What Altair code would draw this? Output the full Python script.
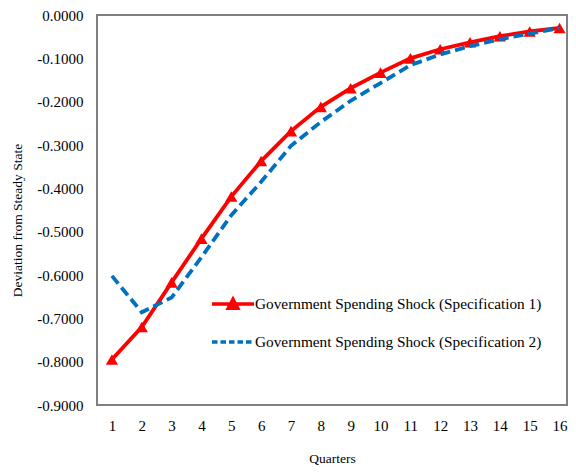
import altair as alt
import pandas as pd

quarters = list(range(1, 17))
spec1 = [-0.795, -0.720, -0.617, -0.516, -0.419, -0.337, -0.268, -0.212, -0.169,
         -0.133, -0.100, -0.079, -0.063, -0.049, -0.038, -0.030]
spec2 = [-0.602, -0.686, -0.652, -0.559, -0.462, -0.385, -0.302, -0.247, -0.198,
         -0.157, -0.116, -0.091, -0.072, -0.056, -0.043, -0.030]
names = ["Government Spending Shock (Specification 1)",
         "Government Spending Shock (Specification 2)"]
colors = ["#FF0000", "#0070C0"]
y_ticks = [0.0, -0.1, -0.2, -0.3, -0.4, -0.5, -0.6, -0.7, -0.8, -0.9]

df = pd.DataFrame({
    "Quarter": quarters * 2,
    "Value": spec1 + spec2,
    "Series": [names[0]] * 16 + [names[1]] * 16,
})

FONT = "Liberation Serif"

tri_path = "M-2,0H2M-0.45,0.4L0,-0.45L0.45,0.4Z"
line_path = "M-2,0H2"


def mk_legend():
    return alt.Legend(
        title=None, orient="none", legendX=123.5, legendY=276.5,
        labelFont=FONT, labelFontSize=15.3, labelColor="black", labelLimit=500,
        labelOffset=9.5, symbolSize=441, symbolStrokeWidth=3.5, rowPadding=14,
        padding=0, symbolOpacity=1,
    )


x = alt.X("Quarter:Q", scale=alt.Scale(domain=[0.5, 16.25], nice=False, zero=False),
          axis=alt.Axis(values=quarters, format="d", title="Quarters", grid=False,
                        ticks=False, domain=False, labelPadding=13, titlePadding=18,
                        labelFont=FONT, labelFontSize=15, labelColor="black",
                        titleFont=FONT, titleFontSize=13.5, titleFontWeight="normal",
                        titleColor="black"))
y = alt.Y("Value:Q", scale=alt.Scale(domain=[-0.9, 0], nice=False, zero=False),
          axis=alt.Axis(values=y_ticks,
                        labelExpr="replace(format(datum.value, '.4f'), '\u2212', '-')",
                        title="Deviation from Steady State",
                        grid=False, ticks=False, domain=False, labelPadding=14,
                        titlePadding=12, titleY=205, labelFont=FONT, labelFontSize=15,
                        labelColor="black", titleFont=FONT, titleFontSize=13.5,
                        titleFontWeight="normal", titleColor="black"))

base = alt.Chart(df).encode(x=x, y=y)

line1 = base.mark_line(strokeWidth=3.8, color=colors[0]).transform_filter(
    alt.datum.Series == names[0])
pts1 = base.mark_point(shape="triangle-up", filled=True, size=150, opacity=1,
                       color=colors[0]).transform_filter(alt.datum.Series == names[0])
line2 = base.mark_line(strokeWidth=3.8, strokeDash=[10, 5], color=colors[1]).transform_filter(
    alt.datum.Series == names[1])

legend_layer = alt.Chart(df).mark_point(filled=True, strokeWidth=3.5, opacity=1).encode(
    fill=alt.Fill("Series:N", scale=alt.Scale(domain=names, range=colors), legend=mk_legend()),
    stroke=alt.Stroke("Series:N", scale=alt.Scale(domain=names, range=colors), legend=mk_legend()),
    shape=alt.Shape("Series:N", scale=alt.Scale(domain=names, range=[tri_path, line_path]),
                    legend=mk_legend()),
    strokeDash=alt.StrokeDash("Series:N", scale=alt.Scale(domain=names, range=[[1, 0], [5.5, 3]]),
                              legend=mk_legend()),
).transform_filter("false")

chart = alt.layer(line1, pts1, line2, legend_layer).properties(
    width=470, height=390,
    autosize=alt.AutoSizeParams(type="none"),
    padding={"left": 89, "top": 7, "right": 1, "bottom": 63},
).configure_view(stroke="#808080", strokeWidth=2)

chart.save("out.html", embed_options={"renderer": "svg", "actions": False})
